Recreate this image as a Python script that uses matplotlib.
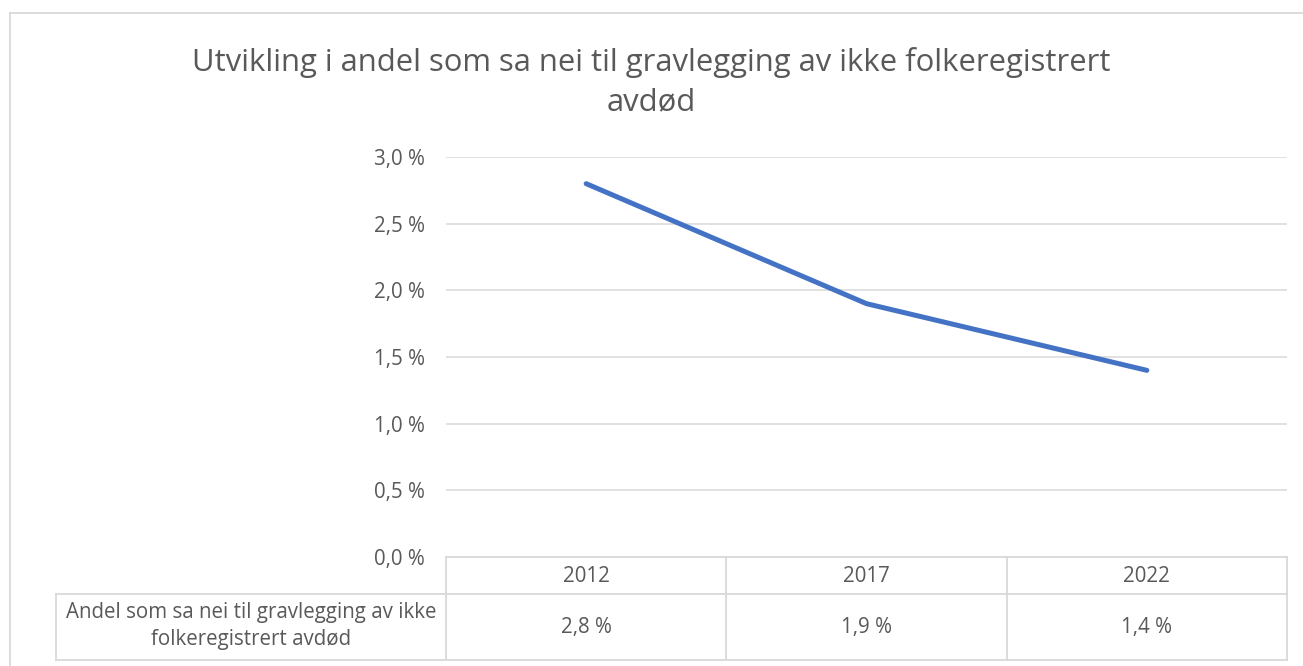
import matplotlib
matplotlib.use("Agg")
import matplotlib.pyplot as plt
import matplotlib.transforms as mtransforms
from matplotlib.lines import Line2D

# Data
years = ["2012", "2017", "2022"]
share = [2.8, 1.9, 1.4]  # percent
series_name = "Andel som sa nei til gravlegging av ikke\nfolkeregistrert avdød"
title = "Utvikling i andel som sa nei til gravlegging av ikke folkeregistrert\navdød"
yticks = [0.0, 0.5, 1.0, 1.5, 2.0, 2.5, 3.0]


def pct(v):
    return f"{v:.1f} %".replace(".", ",")


W, H = 1303, 666
TEXT = "#595959"
GRID = "#D9D9D9"
BLUE = "#4472C4"

plt.rcParams["font.family"] = ["Open Sans", "DejaVu Sans"]

fig = plt.figure(figsize=(W / 100, H / 100), dpi=100)


def fx(px):
    return px / W


def fy(py):
    return 1 - py / H


# plot area
ax = fig.add_axes([fx(446), fy(557), fx(1287) - fx(446), fy(157) - fy(557)])
ax.set_xlim(-0.5, len(years) - 0.5)
ax.set_ylim(0, 3.0)
ax.set_yticks(yticks)
ax.set_yticklabels([pct(v) for v in yticks], color=TEXT, fontsize=14.8)
ax.set_xticks([])
ax.tick_params(axis="y", length=0, pad=15)
ax.yaxis.grid(True, color=GRID, linewidth=1.1)
ax.set_axisbelow(True)
for s in ax.spines.values():
    s.set_visible(False)

ax.plot(range(len(years)), share, color=BLUE, linewidth=3.6,
        solid_capstyle="round", solid_joinstyle="round", zorder=3)

# title
fig.text(fx(651), fy(82), title, ha="center", va="center", fontsize=22.3,
         color=TEXT, linespacing=1.42)

# data table below the axis
bt = mtransforms.blended_transform_factory(ax.transData, fig.transFigure)
edges = [i - 0.5 for i in range(len(years) + 1)]
tbl_kw = dict(color=GRID, linewidth=1.3, clip_on=False)

fig.add_artist(Line2D([edges[0], edges[-1]], [fy(557)] * 2, transform=bt, **tbl_kw))
for y in (594, 660):
    fig.add_artist(Line2D([fx(56), fx(1287)], [fy(y)] * 2,
                          transform=fig.transFigure, **tbl_kw))
for e in edges:
    fig.add_artist(Line2D([e, e], [fy(557), fy(660)], transform=bt, **tbl_kw))
fig.add_artist(Line2D([fx(56), fx(56)], [fy(594), fy(660)],
                      transform=fig.transFigure, **tbl_kw))

for i, (yr, v) in enumerate(zip(years, share)):
    fig.text(i, fy(576), yr, transform=bt, ha="center", va="center",
             fontsize=14.8, color=TEXT)
    fig.text(i, fy(628), pct(v), transform=bt, ha="center", va="center",
             fontsize=14.8, color=TEXT)

fig.text(fx(251), fy(626), series_name, ha="center", va="center",
         fontsize=14.8, color=TEXT, linespacing=1.35)

# chart border
fig.add_artist(Line2D([fx(10), fx(10)], [fy(13), 0], transform=fig.transFigure,
                      color=GRID, linewidth=1.3))
fig.add_artist(Line2D([fx(10), 1], [fy(13), fy(13)], transform=fig.transFigure,
                      color=GRID, linewidth=1.3))

fig.savefig("out.png", dpi=100)
